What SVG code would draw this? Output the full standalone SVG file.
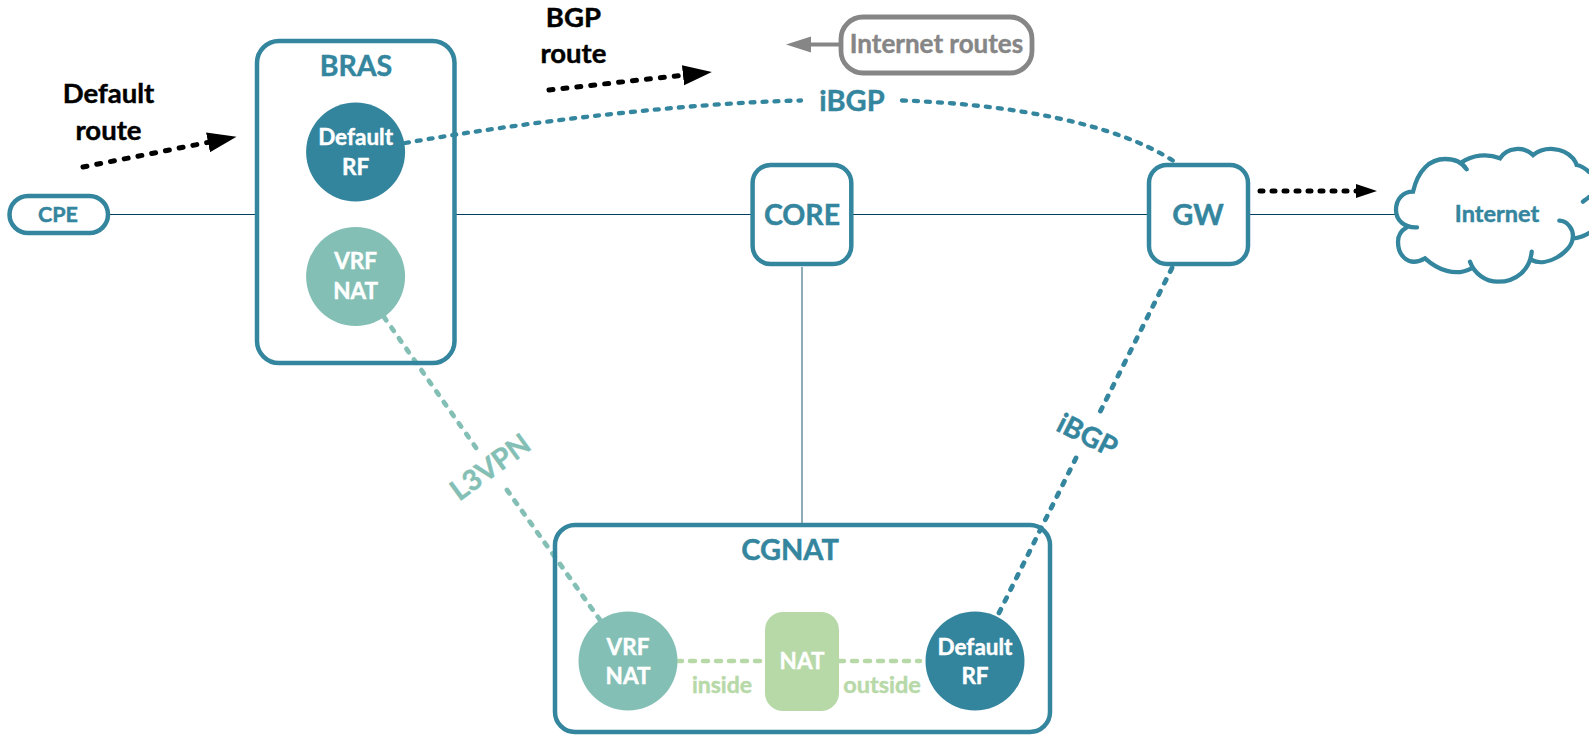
<svg xmlns="http://www.w3.org/2000/svg" width="1589" height="735" viewBox="0 0 1589 735">
<style>
text{font-family:"Lato","Open Sans","Liberation Sans",sans-serif;font-weight:700;text-anchor:middle;stroke-width:.45}
.box{fill:none;stroke:#34859E;stroke-width:4.500}
.dark{fill:#33849D}
.mint{fill:#84BFB6}
.green{fill:#B7D9A8}
text.t{fill:#34859E;stroke:#34859E}
text.mint{stroke:#84BFB6}
text.green{stroke:#B7D9A8}
.w{fill:#fff;stroke:#fff;font-size:22.500px}
.k{fill:#000;stroke:#000;font-size:27.500px}
.thin{fill:none;stroke:#003F5F;stroke-width:1.200}
.dk{fill:none;stroke:#000;stroke-width:5;stroke-linecap:round;stroke-dasharray:4 10}
.dt{fill:none;stroke:#34859E;stroke-width:4.300;stroke-linecap:round;stroke-dasharray:4 8}
.dd{fill:none;stroke:#34859E;stroke-width:4.800;stroke-linecap:round;stroke-dasharray:4 9}
.dm{fill:none;stroke:#84BFB6;stroke-width:4.800;stroke-linecap:round;stroke-dasharray:4 9}
.dg{fill:none;stroke:#B7D9A8;stroke-width:4.500;stroke-linecap:round;stroke-dasharray:5 8}
</style>
<defs>
<marker id="ak" markerUnits="userSpaceOnUse" markerWidth="30" markerHeight="22" refX="2" refY="10" orient="auto"><path d="M0 0L29 10L0 20Z" fill="#000"/></marker>
<marker id="ak2" markerUnits="userSpaceOnUse" markerWidth="24" markerHeight="16" refX="2" refY="7" orient="auto"><path d="M0 0L21 7L0 14Z" fill="#000"/></marker>
</defs>
<g id="connectors">
<path class="thin" d="M110 214.500H257M456 214.500H752M853 214.500H1147M1250 214.500H1397"/>
<path d="M802 267V525" fill="none" stroke="#5F8A9A" stroke-width="1.400"/>
<path class="dt" d="M405 143C525 122 685 103 801 100.500"/>
<path class="dt" d="M902 100.500C1005 104 1115 122 1175 162"/>
<path class="dd" d="M1172 268L1097 418"/>
<path class="dd" d="M1076 458L998 615"/>
<path class="dm" d="M384 317L479 452"/>
<path class="dm" d="M507 490L600 620"/>
<path class="dg" d="M677 661H765"/>
<path class="dg" d="M839 661H920"/>
<path class="dk" d="M83 167L210 142" marker-end="url(#ak)"/>
<path class="dk" d="M549 90L685 75" marker-end="url(#ak)"/>
<path class="dk" d="M1260 191H1358" marker-end="url(#ak2)" style="stroke-dasharray:3 9"/>
<path d="M841 44.500H808" fill="none" stroke="#868686" stroke-width="4"/>
<path d="M786 44.500L811 36.500V52.500Z" fill="#868686"/>
</g>
<g id="bras">
<rect class="box" x="257" y="41" width="197.500" height="322" rx="22"/>
<text class="t" x="356" y="76" font-size="28.500">BRAS</text>
</g>
<g id="bras-default-rf">
<circle class="dark" cx="355.600" cy="152" r="49.500"/>
<text class="w" x="355.600" y="145">Default</text>
<text class="w" x="355.600" y="175">RF</text>
</g>
<g id="bras-vrf-nat">
<circle class="mint" cx="355.600" cy="276.500" r="49.500"/>
<text class="w" x="355.600" y="269">VRF</text>
<text class="w" x="355.600" y="299">NAT</text>
</g>
<g id="cpe">
<rect class="box" x="9.500" y="196" width="98.500" height="37" rx="18.500"/>
<text class="t" x="58" y="222" font-size="21.500">CPE</text>
</g>
<g id="core">
<rect class="box" x="752.600" y="165" width="98.700" height="99" rx="18"/>
<text class="t" x="802" y="225" font-size="28.500">CORE</text>
</g>
<g id="gw">
<rect class="box" x="1149" y="165" width="99" height="99" rx="18"/>
<text class="t" x="1198" y="225" font-size="29">GW</text>
</g>
<g id="internet">
<path fill="none" stroke="#34859E" stroke-width="4.300" stroke-linecap="round" d="M1417 227.300C1404 228 1396 220 1396 210C1396 199 1403 191.700 1413 191.700C1418 170 1430 159 1445 159C1453 159 1462 162 1466.700 169.300M1461.700 162.300C1472 155 1487 153 1500 158.300C1507 147 1524 146 1533 155C1544 146 1563 147 1573 158.300C1575 161 1576 163 1576.700 165C1582 166 1586 169 1589 172M1583 201.700C1585 200 1587 199 1589 197M1573.300 238.300C1579 238 1584 236 1589 233M1559.300 220.700C1568 221 1574 230 1572.700 238C1572 252 1546 268 1531.700 260M1531.700 251.700C1530 270 1516 281.700 1498 281.700C1485 281.700 1474 273 1470 261.700M1471.700 268.300C1455 277 1438 270 1425 258.300C1408 268 1398 255 1398 241.700C1398 235 1402 230 1406.700 227.300"/>
<text class="t" x="1497" y="222" font-size="23.500">Internet</text>
</g>
<g id="internet-routes">
<rect x="841" y="17" width="191" height="56" rx="22" fill="#fff" stroke="#868686" stroke-width="4.800"/>
<text x="936.500" y="53" font-size="26" fill="#868686" stroke="#868686">Internet routes</text>
</g>
<g id="cgnat">
<rect class="box" x="555" y="525" width="495" height="207" rx="20"/>
<text class="t" x="790" y="560" font-size="29">CGNAT</text>
</g>
<g id="cgnat-vrf-nat">
<circle class="mint" cx="628" cy="661" r="49.500"/>
<text class="w" x="628" y="655">VRF</text>
<text class="w" x="628" y="684">NAT</text>
</g>
<g id="nat">
<rect class="green" x="765" y="612" width="74" height="99" rx="18"/>
<text class="w" x="802" y="669">NAT</text>
</g>
<g id="cgnat-default-rf">
<circle class="dark" cx="975" cy="661" r="49.500"/>
<text class="w" x="975" y="655">Default</text>
<text class="w" x="975" y="684">RF</text>
</g>
<g id="labels">
<text class="k" x="108.500" y="103">Default</text>
<text class="k" x="108.500" y="140">route</text>
<text class="k" x="573.400" y="27">BGP</text>
<text class="k" x="573.400" y="63">route</text>
<text class="t" x="852" y="111" font-size="29">iBGP</text>
<text class="mint" font-size="28.500" transform="translate(496 475) rotate(-36)">L3VPN</text>
<text class="t" font-size="28" transform="translate(1083 444) rotate(26.600)">iBGP</text>
<text class="green" x="722" y="693" font-size="23">inside</text>
<text class="green" x="882" y="693" font-size="23.500">outside</text>
</g>
</svg>
